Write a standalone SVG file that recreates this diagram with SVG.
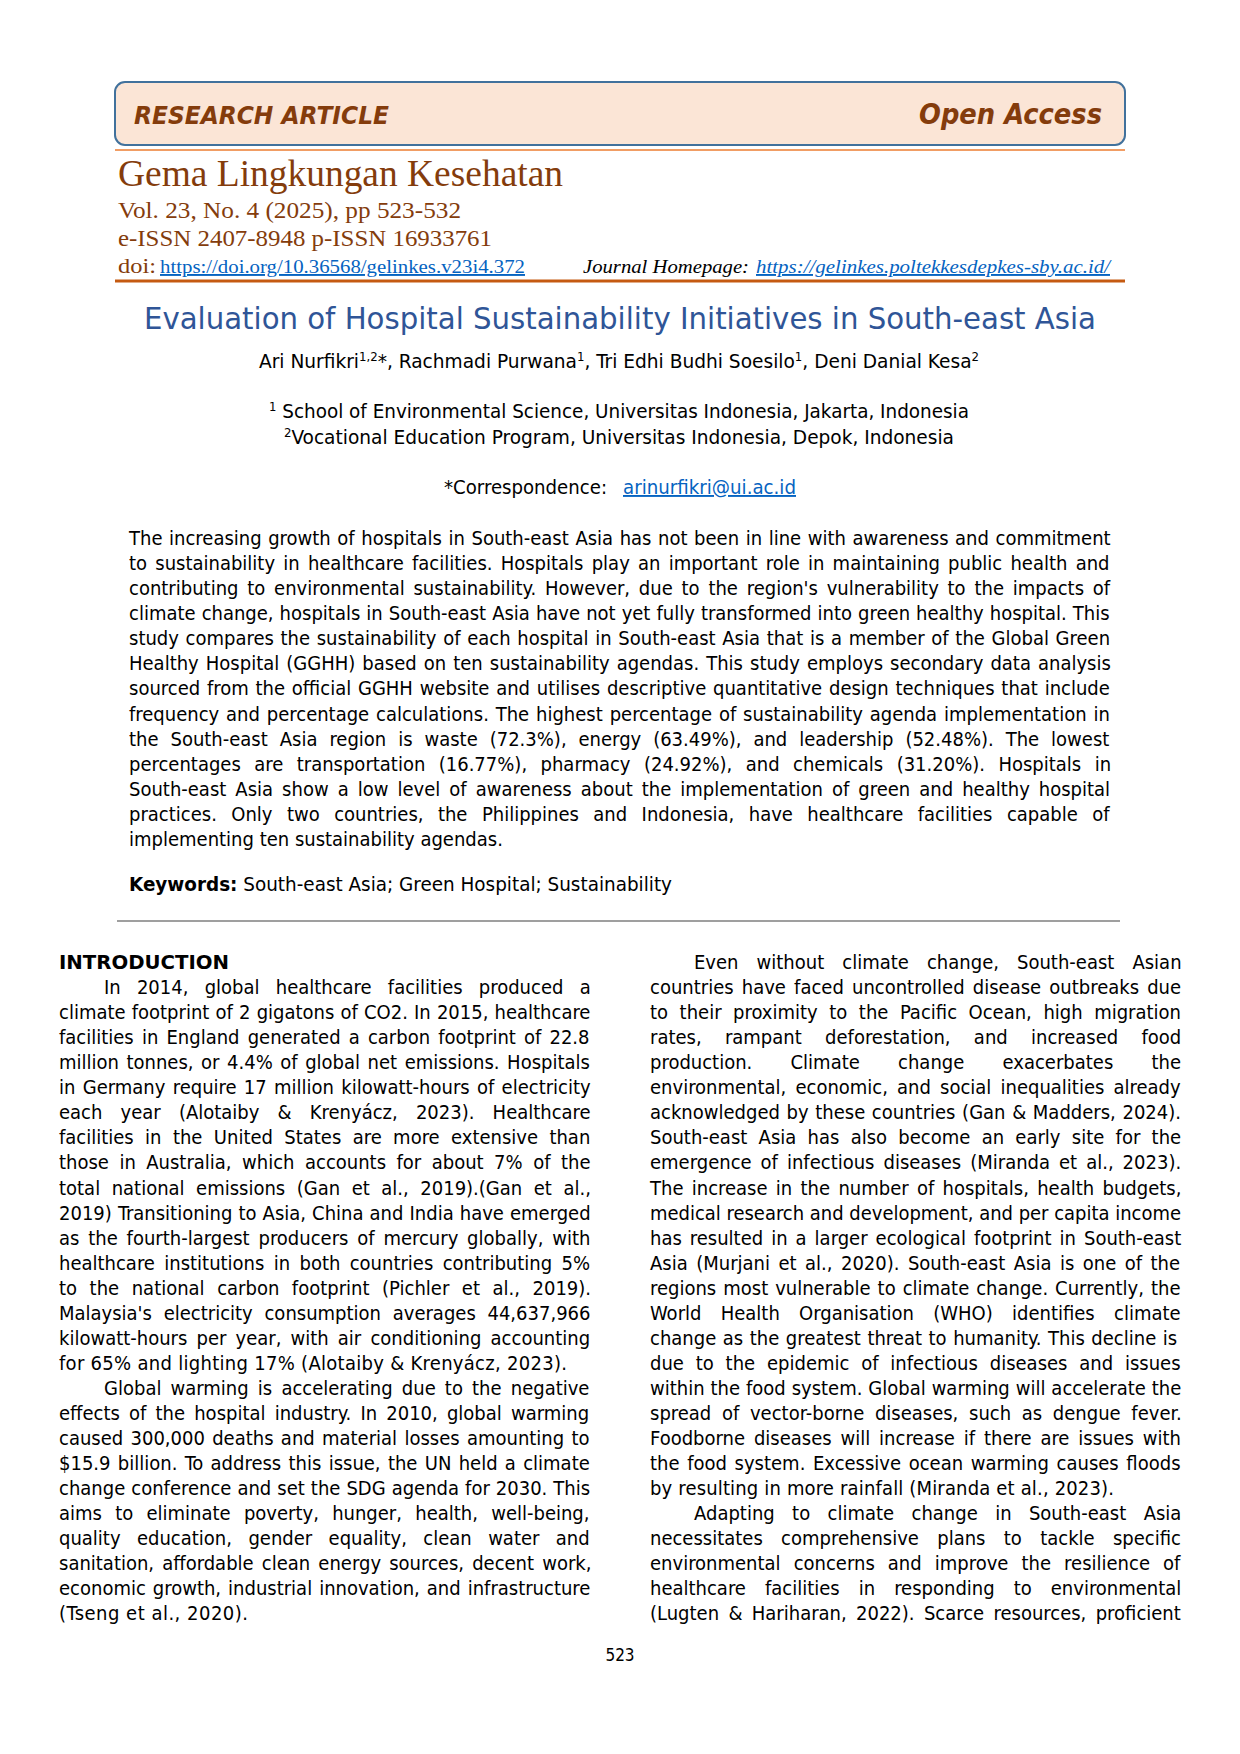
<svg xmlns="http://www.w3.org/2000/svg" width="1240" height="1754" viewBox="0 0 1240 1754">
<style>
.b{font-family:'DejaVu Sans Condensed','DejaVu Sans',sans-serif;font-size:19px;fill:#000}
.c{font-family:'DejaVu Sans Condensed','DejaVu Sans',sans-serif;font-size:20px;fill:#000}
.h{font-family:'DejaVu Sans',sans-serif;font-weight:bold;font-style:italic;fill:#843c0c}
.s{font-family:'Liberation Serif','Times New Roman',serif;fill:#843c0c}
.lk{fill:#0563c1;text-decoration:underline}
.bold{font-weight:bold}
.sup{font-size:12px}
</style>
<rect width="1240" height="1754" fill="#ffffff"/>
<g id="header">
<rect x="115" y="82" width="1010" height="63" rx="10" ry="10" fill="#fbe5d6" stroke="#41719c" stroke-width="2"/>
<text class="h" x="134" y="124" font-size="24" textLength="255" lengthAdjust="spacingAndGlyphs">RESEARCH ARTICLE</text>
<text class="h" x="919" y="124" font-size="28" textLength="183" lengthAdjust="spacingAndGlyphs">Open Access</text>
<line x1="115" y1="150" x2="1125" y2="150" stroke="#ed7d31" stroke-width="1.5"/>
</g>
<g id="journal">
<text class="s" x="118" y="186" font-size="38" textLength="445" lengthAdjust="spacingAndGlyphs">Gema Lingkungan Kesehatan</text>
<text class="s" x="118" y="218" font-size="24" textLength="343" lengthAdjust="spacingAndGlyphs">Vol. 23, No. 4 (2025), pp 523-532</text>
<text class="s" x="118" y="246" font-size="24" textLength="374" lengthAdjust="spacingAndGlyphs">e-ISSN 2407-8948 p-ISSN 16933761</text>
<text class="s" x="118" y="273" font-size="21" textLength="38" lengthAdjust="spacingAndGlyphs">doi:</text>
<text class="s lk" x="160" y="273" font-size="19" textLength="365" lengthAdjust="spacingAndGlyphs">https://doi.org/10.36568/gelinkes.v23i4.372</text>
<text class="s" x="583" y="273" font-size="19" font-style="italic" style="fill:#000" textLength="166" lengthAdjust="spacingAndGlyphs">Journal Homepage:</text>
<text class="s lk" x="756" y="273" font-size="19" font-style="italic" textLength="354" lengthAdjust="spacingAndGlyphs">https://gelinkes.poltekkesdepkes-sby.ac.id/</text>
<line x1="115" y1="281" x2="1125" y2="281" stroke="#c55a11" stroke-width="3"/>
</g>
<g id="title">
<text class="b" x="144" y="329" style="fill:#2f5597;font-size:31px" textLength="952" lengthAdjust="spacingAndGlyphs">Evaluation of Hospital Sustainability Initiatives in South-east Asia</text>
<text class="b" x="259" y="368" textLength="720" lengthAdjust="spacingAndGlyphs">Ari Nurfikri<tspan class="sup" dy="-7">1,2</tspan><tspan dy="7">*, Rachmadi Purwana</tspan><tspan class="sup" dy="-7">1</tspan><tspan dy="7">, Tri Edhi Budhi Soesilo</tspan><tspan class="sup" dy="-7">1</tspan><tspan dy="7">, Deni Danial Kesa</tspan><tspan class="sup" dy="-7">2</tspan></text>
<text class="b" x="269" y="418" textLength="700" lengthAdjust="spacingAndGlyphs"><tspan class="sup" dy="-7">1</tspan><tspan dy="7"> School of Environmental Science, Universitas Indonesia, Jakarta, Indonesia</tspan></text>
<text class="b" x="284" y="444" textLength="670" lengthAdjust="spacingAndGlyphs"><tspan class="sup" dy="-7">2</tspan><tspan dy="7">Vocational Education Program, Universitas Indonesia, Depok, Indonesia</tspan></text>
<text class="b" x="444" y="494" textLength="163" lengthAdjust="spacingAndGlyphs">*Correspondence:</text>
<text class="b lk" x="623" y="494" textLength="173" lengthAdjust="spacingAndGlyphs">arinurfikri@ui.ac.id</text>
</g>
<g id="abstract">
<text class="c" x="129" y="544.5" word-spacing="0.87">The increasing growth of hospitals in South-east Asia has not been in line with awareness and commitment</text>
<text class="c" x="129" y="569.7" word-spacing="2.5">to sustainability in healthcare facilities. Hospitals play an important role in maintaining public health and</text>
<text class="c" x="129" y="594.8" word-spacing="3.08">contributing to environmental sustainability. However, due to the region's vulnerability to the impacts of</text>
<text class="c" x="129" y="620" word-spacing="0.34">climate change, hospitals in South-east Asia have not yet fully transformed into green healthy hospital. This</text>
<text class="c" x="129" y="645.1" word-spacing="0.96">study compares the sustainability of each hospital in South-east Asia that is a member of the Global Green</text>
<text class="c" x="129" y="670.3" word-spacing="1.35">Healthy Hospital (GGHH) based on ten sustainability agendas. This study employs secondary data analysis</text>
<text class="c" x="129" y="695.4" word-spacing="1.07">sourced from the official GGHH website and utilises descriptive quantitative design techniques that include</text>
<text class="c" x="129" y="720.6" word-spacing="1.15">frequency and percentage calculations. The highest percentage of sustainability agenda implementation in</text>
<text class="c" x="129" y="745.7" word-spacing="6.23">the South-east Asia region is waste (72.3%), energy (63.49%), and leadership (52.48%). The lowest</text>
<text class="c" x="129" y="770.9" word-spacing="7.72">percentages are transportation (16.77%), pharmacy (24.92%), and chemicals (31.20%). Hospitals in</text>
<text class="c" x="129" y="796" word-spacing="3.33">South-east Asia show a low level of awareness about the implementation of green and healthy hospital</text>
<text class="c" x="129" y="821.2" word-spacing="8.73">practices. Only two countries, the Philippines and Indonesia, have healthcare facilities capable of</text>
<text class="c" x="129" y="846.3">implementing ten sustainability agendas.</text>
<text class="c" x="129" y="891" textLength="543" lengthAdjust="spacingAndGlyphs"><tspan class="bold">Keywords:</tspan> South-east Asia; Green Hospital; Sustainability</text>
<line x1="117" y1="921" x2="1120" y2="921" stroke="#404040" stroke-width="1.2"/>
</g>
<g id="left-column">
<text x="59" y="969" font-family="'DejaVu Sans',sans-serif" font-size="19.5" font-weight="bold" textLength="170" lengthAdjust="spacingAndGlyphs">INTRODUCTION</text>
<text class="c" x="104" y="994" word-spacing="10.5">In 2014, global healthcare facilities produced a</text>
<text class="c" x="59" y="1019.1" word-spacing="0.44">climate footprint of 2 gigatons of CO2. In 2015, healthcare</text>
<text class="c" x="59" y="1044.2" word-spacing="2.43">facilities in England generated a carbon footprint of 22.8</text>
<text class="c" x="59" y="1069.2" word-spacing="1.84">million tonnes, or 4.4% of global net emissions. Hospitals</text>
<text class="c" x="59" y="1094.3" word-spacing="1.59">in Germany require 17 million kilowatt-hours of electricity</text>
<text class="c" x="59" y="1119.3" word-spacing="12.47">each year (Alotaiby &amp; Krenyácz, 2023). Healthcare</text>
<text class="c" x="59" y="1144.4" word-spacing="5.66">facilities in the United States are more extensive than</text>
<text class="c" x="59" y="1169.4" word-spacing="4.77">those in Australia, which accounts for about 7% of the</text>
<text class="c" x="59" y="1194.5" word-spacing="5.81">total national emissions (Gan et al., 2019).(Gan et al.,</text>
<text class="c" x="59" y="1219.5" word-spacing="0.36">2019) Transitioning to Asia, China and India have emerged</text>
<text class="c" x="59" y="1244.6" word-spacing="3.11">as the fourth-largest producers of mercury globally, with</text>
<text class="c" x="59" y="1269.6" word-spacing="3.63">healthcare institutions in both countries contributing 5%</text>
<text class="c" x="59" y="1294.7" word-spacing="6.84">to the national carbon footprint (Pichler et al., 2019).</text>
<text class="c" x="59" y="1319.7" word-spacing="6.02">Malaysia's electricity consumption averages 44,637,966</text>
<text class="c" x="59" y="1344.8" word-spacing="3.43">kilowatt-hours per year, with air conditioning accounting</text>
<text class="c" x="59" y="1369.8" textLength="508" lengthAdjust="spacing">for 65% and lighting 17% (Alotaiby &amp; Krenyácz, 2023).</text>
<text class="c" x="104" y="1394.9" word-spacing="3.44">Global warming is accelerating due to the negative</text>
<text class="c" x="59" y="1419.9" word-spacing="3.45">effects of the hospital industry. In 2010, global warming</text>
<text class="c" x="59" y="1445" word-spacing="1.59">caused 300,000 deaths and material losses amounting to</text>
<text class="c" x="59" y="1470" word-spacing="1.59">$15.9 billion. To address this issue, the UN held a climate</text>
<text class="c" x="59" y="1495.1" word-spacing="0.32">change conference and set the SDG agenda for 2030. This</text>
<text class="c" x="59" y="1520.1" word-spacing="7.55">aims to eliminate poverty, hunger, health, well-being,</text>
<text class="c" x="59" y="1545.2" word-spacing="10.7">quality education, gender equality, clean water and</text>
<text class="c" x="59" y="1570.2" word-spacing="2.45">sanitation, affordable clean energy sources, decent work,</text>
<text class="c" x="59" y="1595.3" word-spacing="1.28">economic growth, industrial innovation, and infrastructure</text>
<text class="c" x="59" y="1620.3" textLength="189" lengthAdjust="spacing">(Tseng et al., 2020).</text>
</g>
<g id="right-column">
<text class="c" x="694" y="969" word-spacing="12.38">Even without climate change, South-east Asian</text>
<text class="c" x="650" y="994" word-spacing="2.45">countries have faced uncontrolled disease outbreaks due</text>
<text class="c" x="650" y="1019.1" word-spacing="5.83">to their proximity to the Pacific Ocean, high migration</text>
<text class="c" x="650" y="1044.2" word-spacing="17.58">rates, rampant deforestation, and increased food</text>
<text class="c" x="650" y="1069.2" word-spacing="32.55">production. Climate change exacerbates the</text>
<text class="c" x="650" y="1094.3" word-spacing="3.42">environmental, economic, and social inequalities already</text>
<text class="c" x="650" y="1119.3" word-spacing="0.93">acknowledged by these countries (Gan &amp; Madders, 2024).</text>
<text class="c" x="650" y="1144.4" word-spacing="5.57">South-east Asia has also become an early site for the</text>
<text class="c" x="650" y="1169.4" word-spacing="3.29">emergence of infectious diseases (Miranda et al., 2023).</text>
<text class="c" x="650" y="1194.5" word-spacing="2.58">The increase in the number of hospitals, health budgets,</text>
<text class="c" x="650" y="1219.5" textLength="531" lengthAdjust="spacingAndGlyphs">medical research and development, and per capita income</text>
<text class="c" x="650" y="1244.6" word-spacing="2.29">has resulted in a larger ecological footprint in South-east</text>
<text class="c" x="650" y="1269.6" word-spacing="2.76">Asia (Murjani et al., 2020). South-east Asia is one of the</text>
<text class="c" x="650" y="1294.7" word-spacing="1.27">regions most vulnerable to climate change. Currently, the</text>
<text class="c" x="650" y="1319.7" word-spacing="13.54">World Health Organisation (WHO) identifies climate</text>
<text class="c" x="650" y="1344.8" word-spacing="0.84">change as the greatest threat to humanity. This decline is</text>
<text class="c" x="650" y="1369.8" word-spacing="6.11">due to the epidemic of infectious diseases and issues</text>
<text class="c" x="650" y="1394.9" word-spacing="0.21">within the food system. Global warming will accelerate the</text>
<text class="c" x="650" y="1419.9" word-spacing="4.97">spread of vector-borne diseases, such as dengue fever.</text>
<text class="c" x="650" y="1445" word-spacing="3.16">Foodborne diseases will increase if there are issues with</text>
<text class="c" x="650" y="1470" word-spacing="1.93">the food system. Excessive ocean warming causes floods</text>
<text class="c" x="650" y="1495.1" textLength="464" lengthAdjust="spacing">by resulting in more rainfall (Miranda et al., 2023).</text>
<text class="c" x="694" y="1520.1" word-spacing="11.68">Adapting to climate change in South-east Asia</text>
<text class="c" x="650" y="1545.2" word-spacing="12.6">necessitates comprehensive plans to tackle specific</text>
<text class="c" x="650" y="1570.2" word-spacing="7.37">environmental concerns and improve the resilience of</text>
<text class="c" x="650" y="1595.3" word-spacing="13.32">healthcare facilities in responding to environmental</text>
<text class="c" x="650" y="1620.3" word-spacing="3.63">(Lugten &amp; Hariharan, 2022). Scarce resources, proficient</text>
</g>
<g id="footer">
<text class="b" x="620" y="1661" text-anchor="middle" style="font-size:17px">523</text>
</g>
</svg>
